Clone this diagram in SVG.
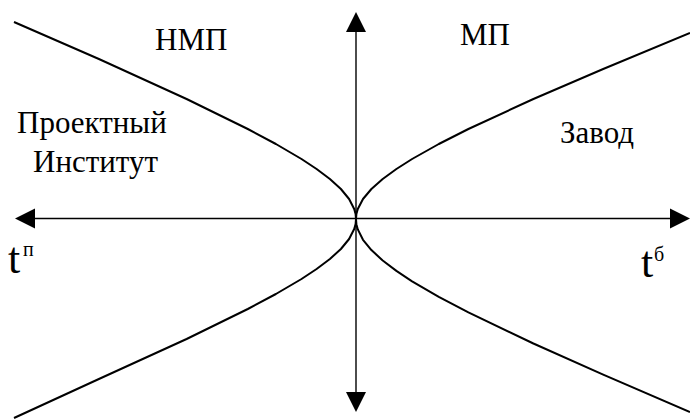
<svg xmlns="http://www.w3.org/2000/svg" width="690" height="419" viewBox="0 0 690 419">
<style>
.axis{stroke:#000;stroke-width:1.4;fill:none}
.curve{stroke:#000;stroke-width:2;fill:none;stroke-linejoin:round}
.head{fill:#000}
.txt{font-family:"Liberation Serif","Times New Roman",Times,Tinos,"Nimbus Roman","Nimbus Roman No9 L",FreeSerif,"Noto Serif","DejaVu Serif",serif;fill:#000}
.lbl{font-size:31px}
.t{font-size:44px}
.sup{font-size:20px}
</style>
<rect width="690" height="419" fill="#fff"/>
<g id="connectors">
<line class="axis" x1="33" y1="218.5" x2="672" y2="218.5"/>
<polygon class="head" points="15,218.5 35,208.5 35,228.5"/>
<polygon class="head" points="690,218.5 670,208.5 670,228.5"/>
<line class="axis" x1="356" y1="30" x2="356" y2="394"/>
<polygon class="head" points="356,12 346,32 366,32"/>
<polygon class="head" points="356,412 346,392 366,392"/>
<path class="curve" d="M14,22 L98.9,59 L186.6,99 L247.8,129 L275.9,144 L301.5,159 L316.6,169 L329.9,179 L340.9,189 L349.1,199 L354.2,209 L355.6,214 L356,219 L355.6,224 L354.2,229 L349.1,239 L340.9,249 L329.9,259 L316.6,269 L301.5,279 L275.9,294 L247.8,309 L186.6,339 L98.9,379 L14,418"/>
<path class="curve" d="M690,33 L603.2,69 L533.4,99 L468.4,129 L438.8,144 L412.1,159 L396.4,169 L382.7,179 L371.4,189 L363,199 L357.8,209 L356.4,214 L356,219 L356.4,224.2 L357.8,229.4 L363,239.8 L371.4,250.1 L382.7,260.5 L396.4,270.9 L412.1,281.3 L438.8,296.8 L468.4,312.4 L533.4,343.5 L603.2,374.6 L690,412"/>
</g>
<g id="nmp"><text class="txt lbl" x="155" y="50">НМП</text></g>
<g id="mp"><text class="txt lbl" x="460" y="45">МП</text></g>
<g id="proekt"><text class="txt lbl" x="17" y="133">Проектный</text><text class="txt lbl" x="33" y="172">Институт</text></g>
<g id="zavod"><text class="txt lbl" x="560" y="143">Завод</text></g>
<g id="tp"><text class="txt t" x="8" y="273">t</text><text class="txt sup" x="23" y="256">п</text></g>
<g id="tb"><text class="txt t" x="641" y="277">t</text><text class="txt sup" x="654" y="261">б</text></g>
</svg>
